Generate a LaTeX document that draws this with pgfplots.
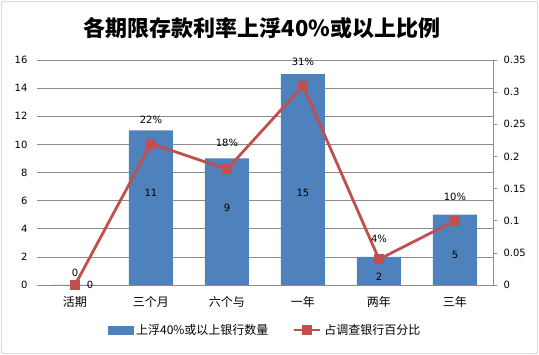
\documentclass[border=0pt]{standalone}
\usepackage{fontspec}
\setmainfont{DejaVu Sans}
\newfontfamily\cjk{Noto Sans CJK SC}
\usepackage{pgfplots}
\pgfplotsset{compat=1.18}
\usepackage{pgfplotstable}
\definecolor{barblue}{HTML}{4F81BD}
\definecolor{linered}{HTML}{C0504D}
\definecolor{gridgray}{HTML}{8C8C8C}

\pgfplotsset{
  linelegend/.style={legend image code/.code={\draw[mark repeat=2,mark phase=2,##1,line width=2.8pt,mark size=4.5pt] plot coordinates {(0pt,0pt) (13pt,0pt) (26pt,0pt)};}},
  barlegend/.style={legend image code/.code={\fill[barblue] (0pt,-4pt) rectangle (25pt,4pt);}},
}

\pgfplotstableread{
x n dy dx
0 0 0 15
1 11 -63 0
2 9 -49 0
3 15 -119 0
4 2 -20 0
5 5 -40 0
}\bardata

\pgfplotstableread{
x p lbl dy
0 0 0 12
1 0.22 22\% 24
2 0.18 18\% 26
3 0.31 31\% 24
4 0.04 4\% 20
5 0.10 10\% 24
}\linedata

\begin{document}
\begin{tikzpicture}
\useasboundingbox (0,0) rectangle (539pt,355pt);
\draw[gray!80, rounded corners=2pt] (1.5pt,1.5pt) rectangle (537.5pt,353.5pt);
\node[font=\cjk\bfseries\fontsize{22}{26}\selectfont] at (262pt,327pt) {各期限存款利率上浮40\%或以上比例};

\begin{axis}[
  at={(37pt,70pt)}, anchor=south west,
  scale only axis, width=456pt, height=225pt,
  xmin=-0.5, xmax=5.5, ymin=0, ymax=16,
  ytick={0,2,4,6,8,10,12,14,16},
  xtick={0,1,2,3,4,5},
  xticklabels={活期,三个月,六个与,一年,两年,三年},
  xticklabel style={font=\cjk\fontsize{12}{14}\selectfont, yshift=-4pt},
  yticklabel style={font=\fontsize{10}{12}\selectfont, xshift=-6pt},
  /pgf/number format/assume math mode=true,
  axis x line*=bottom, axis y line*=left,
  y axis line style={draw=none},
  x axis line style={gridgray, -},
  tick style={draw=none},
  ymajorgrids, grid style={gridgray, line width=0.6pt},
  ybar, bar width=44pt,
  nodes near coords,
  visualization depends on={\thisrow{dy} \as \dy},
  visualization depends on={\thisrow{dx} \as \dx},
  every node near coord/.append style={anchor=center, font=\fontsize{10}{12}\selectfont, yshift=\dy pt, xshift=\dx pt, text=black},
]
\addplot[fill=barblue, draw=none] table[x=x, y=n] {\bardata};
\end{axis}

\begin{axis}[
  at={(37pt,70pt)}, anchor=south west,
  scale only axis, width=456pt, height=225pt,
  xmin=-0.5, xmax=5.5, ymin=0, ymax=0.35,
  axis x line=none, axis y line*=right,
  y axis line style={gridgray, -, line width=0.6pt},
  ytick={0,0.05,0.1,0.15,0.2,0.25,0.3,0.35},
  yticklabels={0,0.05,0.1,0.15,0.2,0.25,0.3,0.35},
  ytick style={gridgray, line width=0.6pt},
  tick align=outside, major tick length=4pt,
  yticklabel style={font=\fontsize{10}{12}\selectfont, xshift=3pt},
  legend columns=2,
  legend style={at={(0.5,-0.2)}, anchor=center, draw=none, fill=none,
    font=\cjk\fontsize{12}{14}\selectfont,
    /tikz/every even column/.append style={column sep=22pt},
    /tikz/every odd column/.append style={column sep=1pt}},
]
\addlegendimage{barlegend}
\addlegendentry{上浮40\%或以上银行数量}
\addplot[linered, line width=2.8pt, mark=square*, mark size=4.5pt,
  mark options={solid, fill=linered, draw=linered, line width=0pt},
  nodes near coords, point meta=explicit symbolic,
  visualization depends on={\thisrow{dy} \as \dy},
  every node near coord/.append style={anchor=center, yshift=\dy pt, font=\fontsize{10}{12}\selectfont, text=black},
  linelegend
] table[x=x, y=p, meta=lbl] {\linedata};
\addlegendentry{占调查银行百分比}
\end{axis}
\end{tikzpicture}
\end{document}
